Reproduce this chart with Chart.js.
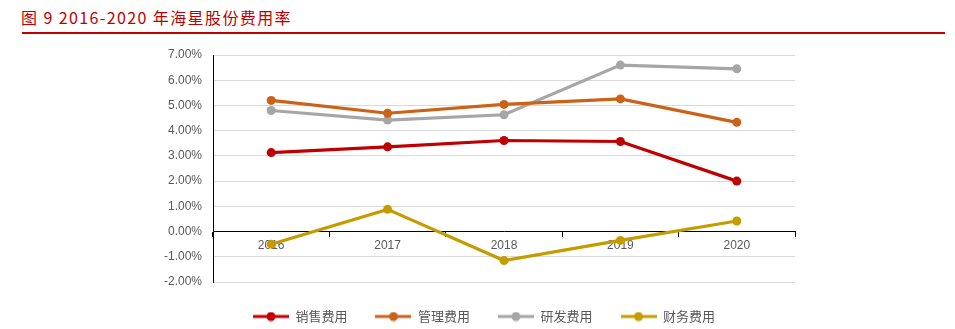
<!DOCTYPE html>
<html>
<head>
<meta charset="utf-8">
<script src="https://cdn.jsdelivr.net/npm/chart.js@4.4.0/dist/chart.umd.min.js"></script>
<style>
  html, body { margin: 0; padding: 0; background: #fff; overflow: hidden; }
  #title {
    position: absolute; left: 21px; top: 5px;
    font-family: "Noto Sans CJK SC", sans-serif; font-size: 16px;
    color: #C00000; letter-spacing: 1.4px; white-space: nowrap;
  }
  #rule { position: absolute; left: 22px; top: 32px; width: 923px; height: 2px; background: #C00000; }
  #wrap { position: absolute; left: 0; top: 0; width: 955px; height: 337px; }
</style>
</head>
<body>
<div id="title">图 9 2016-2020 年海星股份费用率</div>
<div id="rule"></div>
<div id="wrap"><canvas id="chart"></canvas></div>
<script>
const years = ['2016', '2017', '2018', '2019', '2020'];
const seriesNames = ['销售费用', '管理费用', '研发费用', '财务费用'];
const salesRate = [3.13, 3.36, 3.61, 3.57, 2.00];
const adminRate = [5.20, 4.69, 5.04, 5.26, 4.33];
const rdRate = [4.80, 4.42, 4.63, 6.60, 6.45];
const financeRate = [-0.50, 0.88, -1.15, -0.35, 0.42];
const colors = ['#C00000', '#CC6218', '#A6A6A6', '#C59C00'];

// legend marker: short line with a dot in the middle
function legendMarker(color) {
    const c = document.createElement('canvas');
    c.width = 36;
    c.height = 10;
    const ctx = c.getContext('2d');
    ctx.strokeStyle = color;
    ctx.lineWidth = 3;
    ctx.beginPath();
    ctx.moveTo(0, 5);
    ctx.lineTo(36, 5);
    ctx.stroke();
    ctx.fillStyle = color;
    ctx.beginPath();
    ctx.arc(18, 5, 4.5, 0, Math.PI * 2);
    ctx.fill();
    return c;
}

// nudge the legend row a little right of the canvas centre
const legendShift = {
    id: 'legendShift',
    afterLayout(chart) {
        chart.legend.left += 15;
        chart.legend.right += 15;
    }
};

const values = [salesRate, adminRate, rdRate, financeRate];
const datasets = seriesNames.map((name, i) => ({
    label: name,
    data: values[i],
    borderColor: colors[i],
    backgroundColor: colors[i],
    borderWidth: 3.2,
    pointRadius: 4.5,
    pointHoverRadius: 4.5,
    pointBorderWidth: 0,
    tension: 0
}));

new Chart(document.getElementById('chart'), {
    type: 'line',
    data: { labels: years, datasets: datasets },
    plugins: [legendShift],
    options: {
        responsive: true,
        maintainAspectRatio: false,
        animation: false,
        layout: { padding: { top: 55, left: 143, right: 160, bottom: 4 } },
        scales: {
            x: {
                type: 'category',
                offset: true,
                position: { y: 0 },
                border: { color: '#000', width: 1 },
                grid: { offset: true, drawOnChartArea: false, drawTicks: true, tickLength: 5, tickColor: '#000' },
                ticks: { color: '#595959', padding: 2, font: { family: 'Liberation Sans', size: 12 } }
            },
            y: {
                min: -2,
                max: 7,
                afterFit: scale => { scale.width = 70; },
                border: { color: '#000', width: 1 },
                grid: { color: '#D9D9D9', drawTicks: false },
                ticks: {
                    stepSize: 1,
                    padding: 11,
                    color: '#595959',
                    font: { family: 'Liberation Sans', size: 12 },
                    callback: v => v.toFixed(2) + '%'
                }
            }
        },
        plugins: {
            tooltip: { enabled: false },
            legend: {
                position: 'bottom',
                labels: {
                    usePointStyle: true,
                    pointStyleWidth: 36,
                    padding: 28,
                    color: '#595959',
                    font: { family: 'Noto Sans CJK SC', size: 13 },
                    generateLabels: chart => chart.data.datasets.map((ds, i) => ({
                        text: ds.label,
                        pointStyle: legendMarker(colors[i]),
                        fillStyle: colors[i],
                        strokeStyle: colors[i],
                        lineWidth: 0,
                        fontColor: '#595959',
                        datasetIndex: i
                    }))
                }
            }
        }
    }
});
</script>
</body>
</html>
